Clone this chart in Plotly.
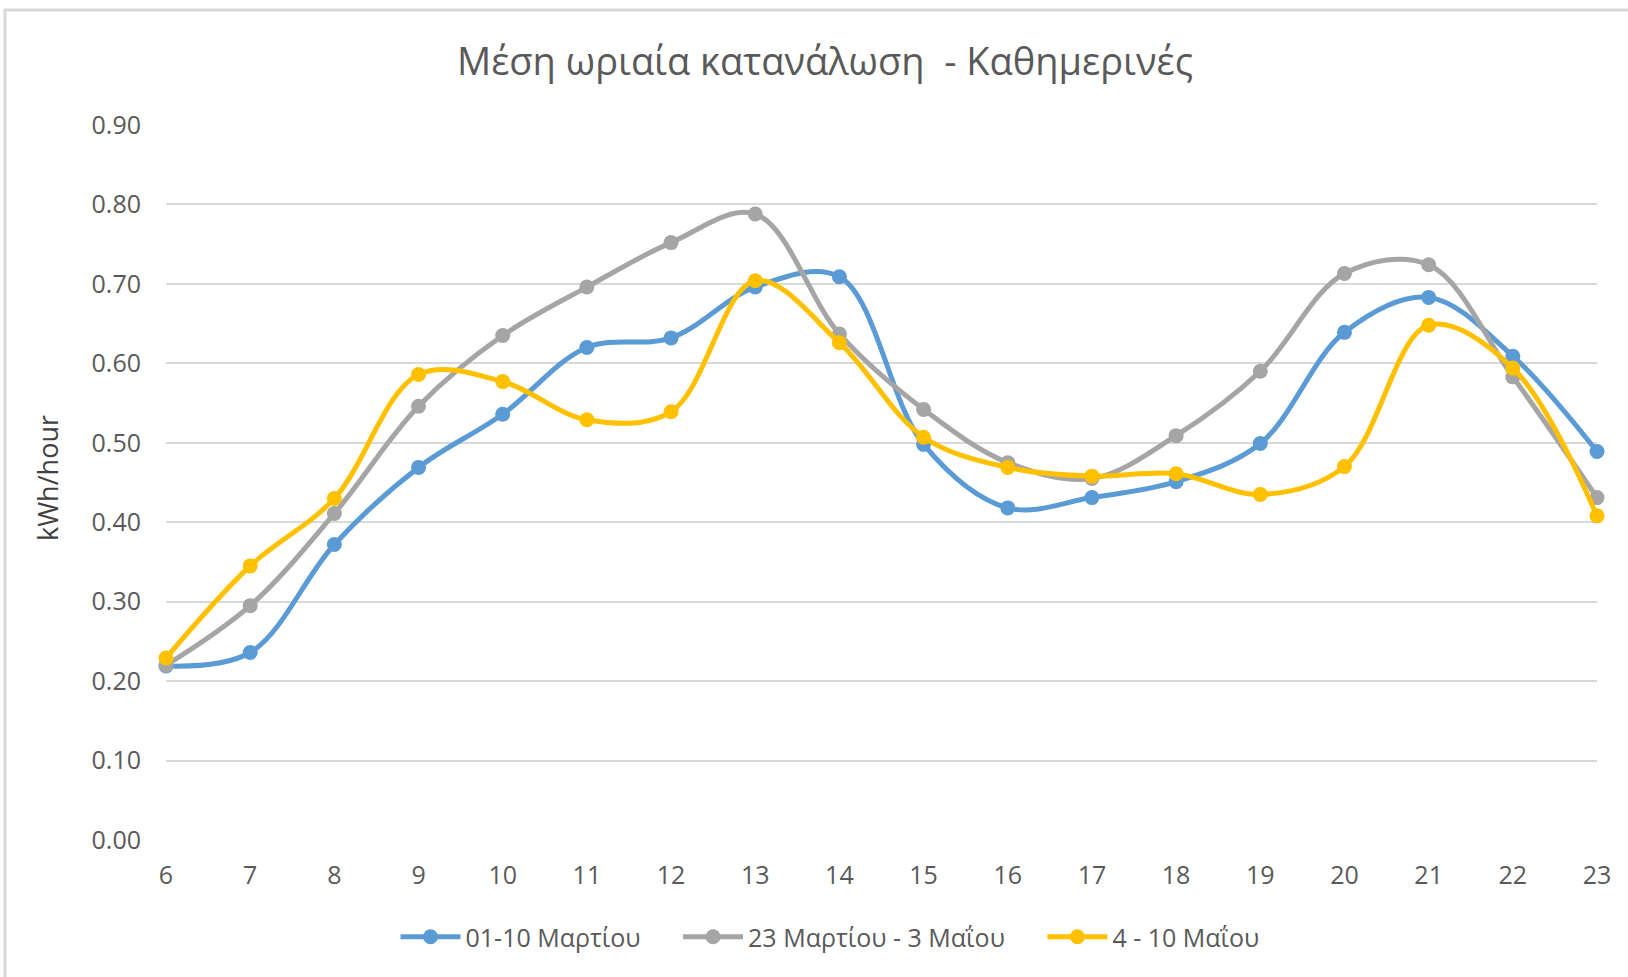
import plotly.graph_objects as go

# =========================
# DATA
# =========================
hours = [6, 7, 8, 9, 10, 11, 12, 13, 14, 15, 16, 17, 18, 19, 20, 21, 22, 23]

march_early = [0.219, 0.236, 0.372, 0.469, 0.536, 0.620, 0.632, 0.696, 0.709, 0.498,
               0.418, 0.431, 0.451, 0.499, 0.639, 0.683, 0.609, 0.489]
march_may = [0.220, 0.295, 0.411, 0.546, 0.635, 0.696, 0.752, 0.788, 0.637, 0.542,
             0.475, 0.455, 0.509, 0.590, 0.713, 0.724, 0.583, 0.431]
may_week = [0.229, 0.345, 0.430, 0.586, 0.577, 0.529, 0.539, 0.704, 0.626, 0.507,
            0.469, 0.458, 0.461, 0.435, 0.470, 0.648, 0.594, 0.408]

series_names = ["01-10 Μαρτίου", "23 Μαρτίου - 3 Μαΐου", "4 - 10 Μαΐου"]
series_colors = ["#5B9BD5", "#A5A5A5", "#FFC000"]

y_ticks = [0.0, 0.1, 0.2, 0.3, 0.4, 0.5, 0.6, 0.7, 0.8, 0.9]

FONT = "Open Sans, Calibri, Carlito, sans-serif"
TEXT = "#595959"
GRID = "#D9D9D9"
PAD = "\u00a0" * 5  # extra gap between legend entries

# =========================
# FIGURE
# =========================
fig = go.Figure()

for i, (name, vals, color) in enumerate(zip(series_names, [march_early, march_may, may_week], series_colors)):
    label = name + (PAD if i < len(series_names) - 1 else "")
    fig.add_trace(go.Scatter(
        x=hours,
        y=vals,
        name=label,
        mode="lines+markers",
        line=dict(color=color, width=5, shape="spline", smoothing=1.0),
        marker=dict(color=color, size=15),
        cliponaxis=False,
    ))

# margins chosen so the plot area sits where the original one does
L, R, T, B = 166, 31, 125, 137
W, H = 1628, 977
pw, ph = W - L - R, H - T - B

fig.update_layout(
    width=W,
    height=H,
    margin=dict(l=L, r=R, t=T, b=B),
    paper_bgcolor="white",
    plot_bgcolor="white",
    font=dict(family=FONT, color=TEXT, size=25),
    title=dict(
        text="Μέση ωριαία κατανάλωση  - Καθημερινές",
        x=825 / W, xref="container", xanchor="center",
        y=1 - 62 / H, yref="container", yanchor="middle",
        font=dict(family=FONT, size=38, color=TEXT),
    ),
    legend=dict(
        orientation="h",
        xref="container", x=830 / W, xanchor="center",
        yref="container", y=1 - 937 / H, yanchor="middle",
        font=dict(size=25, color=TEXT),
        itemwidth=60,
        traceorder="normal",
    ),
    showlegend=True,
)

fig.update_xaxes(
    range=[6, 23],
    tickmode="array",
    tickvals=hours,
    ticktext=[str(h) for h in hours],
    showgrid=False,
    zeroline=False,
    showline=False,
    ticks="",
    ticklabelstandoff=18,
    tickfont=dict(size=25, color=TEXT),
)

fig.update_yaxes(
    range=[0, 0.9],
    tickmode="array",
    tickvals=y_ticks,
    ticktext=[f"{v:.2f}" for v in y_ticks],
    showgrid=True,
    gridcolor=GRID,
    gridwidth=1.5,
    zeroline=False,
    showline=False,
    ticks="",
    ticklabelstandoff=24,
    tickfont=dict(size=25, color=TEXT),
)

# y axis title as annotation, placed like the original
fig.add_annotation(
    text="kWh/hour",
    xref="paper", yref="paper",
    x=(47 - L) / pw, y=(H - B - 478) / ph,
    xanchor="center", yanchor="middle",
    textangle=-90,
    showarrow=False,
    font=dict(family=FONT, size=27, color="#404040"),
)

# light outer frame of the chart area (top and left edges visible)
fig.add_shape(
    type="rect",
    xref="paper", yref="paper",
    x0=(5 - L) / pw, x1=(W + 10 - L) / pw,
    y0=(H - B - (H + 10)) / ph, y1=(H - B - 10) / ph,
    line=dict(color=GRID, width=3),
    layer="below",
)

# drop the default page margin so the figure sits at the window corner
fig.write_html(
    "out.html",
    config={"displayModeBar": False},
    post_script="document.body.style.margin='0';",
)
